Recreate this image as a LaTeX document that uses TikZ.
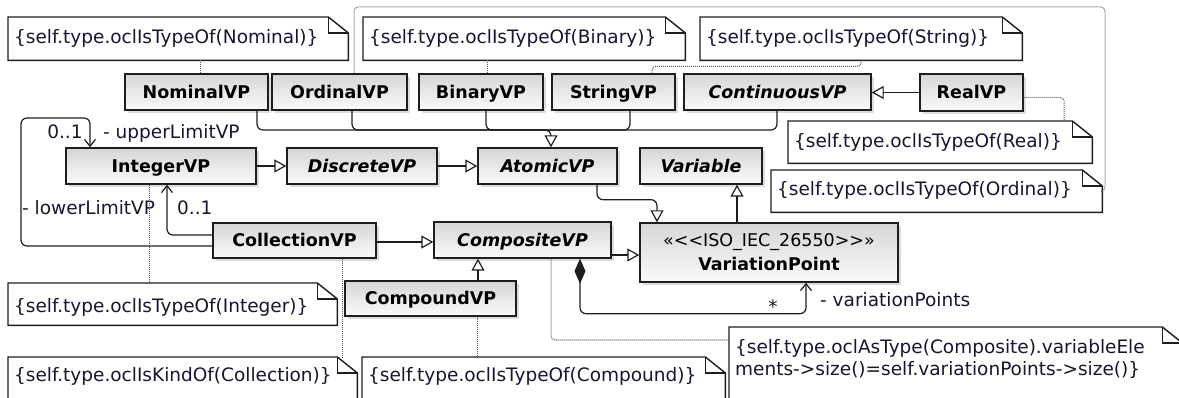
\documentclass[tikz,border=0pt]{standalone}
\usepackage{fontspec}
\setmainfont{DejaVu Sans}[Ligatures=TeXOff]
\usetikzlibrary{arrows.meta,shadows}
\definecolor{inkblue}{RGB}{22,22,48}
\definecolor{edge}{RGB}{30,30,30}
\newcommand\notefont{\fontsize{18.5}{22}\selectfont}
\newcommand\classfont{\fontsize{17.5}{24}\selectfont\bfseries}
% outline of a UML note with a folded top-right corner
\newcommand\dogear[1]{%
  \draw[notebrd] (#1.south west) -- (#1.north west) -- ([xshift=-20pt]#1.north east)
     -- ([yshift=-16pt]#1.north east) -- (#1.south east) -- cycle;
  \draw[notebrd] ([xshift=-20pt]#1.north east) -- ([xshift=-20pt,yshift=-16pt]#1.north east)
     -- ([yshift=-16pt]#1.north east);}
\begin{document}
\begin{tikzpicture}[x=1pt,y=-1pt,
  clsbase/.style={draw=edge, line width=1.4pt, top color=gray!32, bottom color=gray!4,
    inner sep=0pt, font=\classfont, text=black,
    drop shadow={shadow xshift=3pt, shadow yshift=-3pt, opacity=0.28}},
  cls/.style={clsbase, text height=12.8pt, text depth=0pt},
  abs/.style={cls, font=\classfont\itshape},
  note/.style={fill=white, anchor=north west, inner xsep=6pt, inner ysep=0pt,
    align=left, font=\notefont, text=inkblue},
  notebrd/.style={draw=edge, line width=1.4pt, line join=miter},
  conn/.style={draw=edge, line width=1.2pt, rounded corners=6pt},
  gen/.style={conn, -{Triangle[open, length=12pt, width=13pt, line width=1.2pt]}},
  nav/.style={conn, -{Straight Barb[length=7pt, width=11pt, line width=1.2pt]}},
  anchorline/.style={draw=black!65, line width=1pt, dash pattern=on 1pt off 1pt, rounded corners=4pt},
  lbl/.style={font=\notefont, text=inkblue, inner sep=0pt, text height=13.5pt, text depth=0pt}
]
\clip (0,0) rectangle (1179,398);

% ---- OCL constraint notes ----
\node[note, text width=328pt, text height=26.5pt, text depth=16.5pt] (nNom) at (8,17)
  {\{self.type.oclIsTypeOf(Nominal)\}};
\node[note, text width=310pt, text height=26.5pt, text depth=16.5pt] (nBin) at (363,17)
  {\{self.type.oclIsTypeOf(Binary)\}};
\node[note, text width=310pt, text height=26.5pt, text depth=16.5pt] (nStr) at (700,17)
  {\{self.type.oclIsTypeOf(String)\}};
\node[note, text width=292pt, text height=26.5pt, text depth=15.5pt] (nReal) at (788,121)
  {\{self.type.oclIsTypeOf(Real)\}};
\node[note, text width=319pt, text height=25.5pt, text depth=16.5pt] (nOrd) at (771,170)
  {\{self.type.oclIsTypeOf(Ordinal)\}};
\node[note, text width=317pt, text height=29pt, text depth=13pt] (nInt) at (8,283)
  {\{self.type.oclIsTypeOf(Integer)\}};
\node[note, text width=337pt, text height=24pt, text depth=30pt] (nCol) at (8,357)
  {\{self.type.oclIsKindOf(Collection)\}};
\node[note, text width=351pt, text height=24pt, text depth=30pt] (nCmp) at (362,357)
  {\{self.type.oclIsTypeOf(Compound)\}};
\node[note, text width=441pt, text height=26.5pt, text depth=60pt] (nBig) at (729,327)
  {\begin{tabular}[t]{@{}l@{}}\{self.type.oclAsType(Composite).variableEle\\
   ments->size()=self.variationPoints->size()\}\end{tabular}};
\foreach \n in {nNom,nBin,nStr,nReal,nOrd,nInt,nCol,nCmp,nBig} {\dogear{\n}}

% ---- classes ----
\node[cls, minimum width=143pt, minimum height=36pt] (NominalVP) at (196.5,92) {NominalVP};
\node[cls, minimum width=135pt, minimum height=36pt] (OrdinalVP) at (339.5,92) {OrdinalVP};
\node[cls, minimum width=124pt, minimum height=36pt] (BinaryVP) at (481,92) {BinaryVP};
\node[cls, minimum width=123pt, minimum height=36pt] (StringVP) at (613.5,92) {StringVP};
\node[abs, minimum width=187pt, minimum height=36pt] (ContinuousVP) at (777.5,92) {ContinuousVP};
\node[cls, minimum width=103pt, minimum height=37pt] (RealVP) at (971.5,92.5) {RealVP};

\node[cls, minimum width=190pt, minimum height=36pt] (IntegerVP) at (161,166) {IntegerVP};
\node[abs, minimum width=150pt, minimum height=36pt] (DiscreteVP) at (362,166) {DiscreteVP};
\node[abs, minimum width=139pt, minimum height=36pt] (AtomicVP) at (547.5,166) {AtomicVP};
\node[abs, minimum width=122pt, minimum height=36pt] (Variable) at (701,166) {Variable};

\node[cls, minimum width=163pt, minimum height=35pt] (CollectionVP) at (294.5,240.5) {CollectionVP};
\node[abs, minimum width=177pt, minimum height=36pt] (CompositeVP) at (522.5,240) {CompositeVP};
\node[clsbase, minimum width=258pt, minimum height=59pt, align=center] (VariationPoint) at (769,252.5)
  {{\mdseries «<\kern0pt<ISO\_IEC\_26550>\kern0pt>»}\\VariationPoint};
\node[cls, minimum width=171pt, minimum height=35pt] (CompoundVP) at (430.5,298.5) {CompoundVP};

% ---- generalisations ----
\coordinate (atj) at (551,130);
\draw[conn] ([xshift=60.5pt]NominalVP.south) |- (atj);
\draw[conn] ([xshift=12.5pt]OrdinalVP.south) |- (atj);
\draw[conn] ([xshift=16.5pt]StringVP.south) |- (atj);
\draw[conn] ([xshift=-0.5pt]ContinuousVP.south) |- (atj);
\draw[gen] ([xshift=5pt]BinaryVP.south) |- (atj) -- (atj |- AtomicVP.north);
\draw[gen] (RealVP.west) -- (RealVP.west -| ContinuousVP.east);
\draw[gen] (IntegerVP.east) -- (DiscreteVP.west);
\draw[gen] (DiscreteVP.east) -- (AtomicVP.west);
\draw[gen] ([xshift=49.5pt]AtomicVP.south) -- ++(0,15) -| ([xshift=-112pt]VariationPoint.north);
\draw[gen] ([xshift=-32pt]VariationPoint.north) -- ([xshift=-32pt]VariationPoint.north |- Variable.south);
\draw[gen] ([yshift=-1.5pt]CollectionVP.east) -- ([yshift=-1.5pt]CollectionVP.east -| CompositeVP.west);
\draw[gen] ([yshift=-2.5pt]VariationPoint.west -| CompositeVP.east) -- ([yshift=-2.5pt]VariationPoint.west);
\draw[gen] ([xshift=47.5pt]CompoundVP.north) -- ([xshift=47.5pt]CompoundVP.north |- CompositeVP.south);

% ---- associations ----
\draw[nav] ([yshift=5.5pt]CollectionVP.west) -| ([xshift=6pt]IntegerVP.south);
\coordinate (upl) at (21,118);
\draw[nav] ([yshift=-5.5pt]CollectionVP.west) -| (upl) -| ([xshift=-71pt]IntegerVP.north);
\draw[conn, {Diamond[length=25pt, width=11pt]}-{Straight Barb[length=7pt, width=11pt, line width=1.2pt]}]
  ([xshift=57.5pt]CompositeVP.south) -- ++(0,55) -| ([xshift=37pt]VariationPoint.south);

\node[lbl] (upMul) at (65,132) {0..1};
\node[lbl, anchor=west] (upRole) at (103,132) {- upperLimitVP};
\node[lbl, anchor=west] (loRole) at (22,208) {- lowerLimitVP};
\node[lbl, anchor=west] (loMul) at (177,208) {0..1};
\node[lbl] (vpMul) at (773,307) {*};
\node[lbl, anchor=west] (vpRole) at (820,300) {- variationPoints};

% ---- note anchors ----
\draw[anchorline] ([xshift=3.5pt]NominalVP.north) -- ([xshift=3.5pt]NominalVP.north |- nNom.south);
\draw[anchorline] ([xshift=6pt]BinaryVP.north) -- ([xshift=6pt]BinaryVP.north |- nBin.south);
\coordinate (ordc) at (1105,7);
\draw[anchorline] ([xshift=14.5pt]OrdinalVP.north) |- (ordc) |- (nOrd.east);
\draw[anchorline] ([xshift=38.5pt]StringVP.north) -- ++(0,-7) -| (nStr.south);
\draw[anchorline] ([yshift=-5pt]RealVP.east) -| ([xshift=124pt]nReal.north);
\draw[anchorline] ([xshift=-12pt]IntegerVP.south) -- ([xshift=-12pt]IntegerVP.south |- nInt.north);
\draw[anchorline] ([xshift=47.5pt]CollectionVP.south) -- ([xshift=47.5pt]CollectionVP.south |- nCol.north);
\draw[anchorline] ([xshift=46.5pt]CompoundVP.south) -- ([xshift=46.5pt]CompoundVP.south |- nCmp.north);
\draw[anchorline] ([xshift=28.5pt]CompositeVP.south) |- ([yshift=-13pt]nBig.north west);
\end{tikzpicture}
\end{document}
